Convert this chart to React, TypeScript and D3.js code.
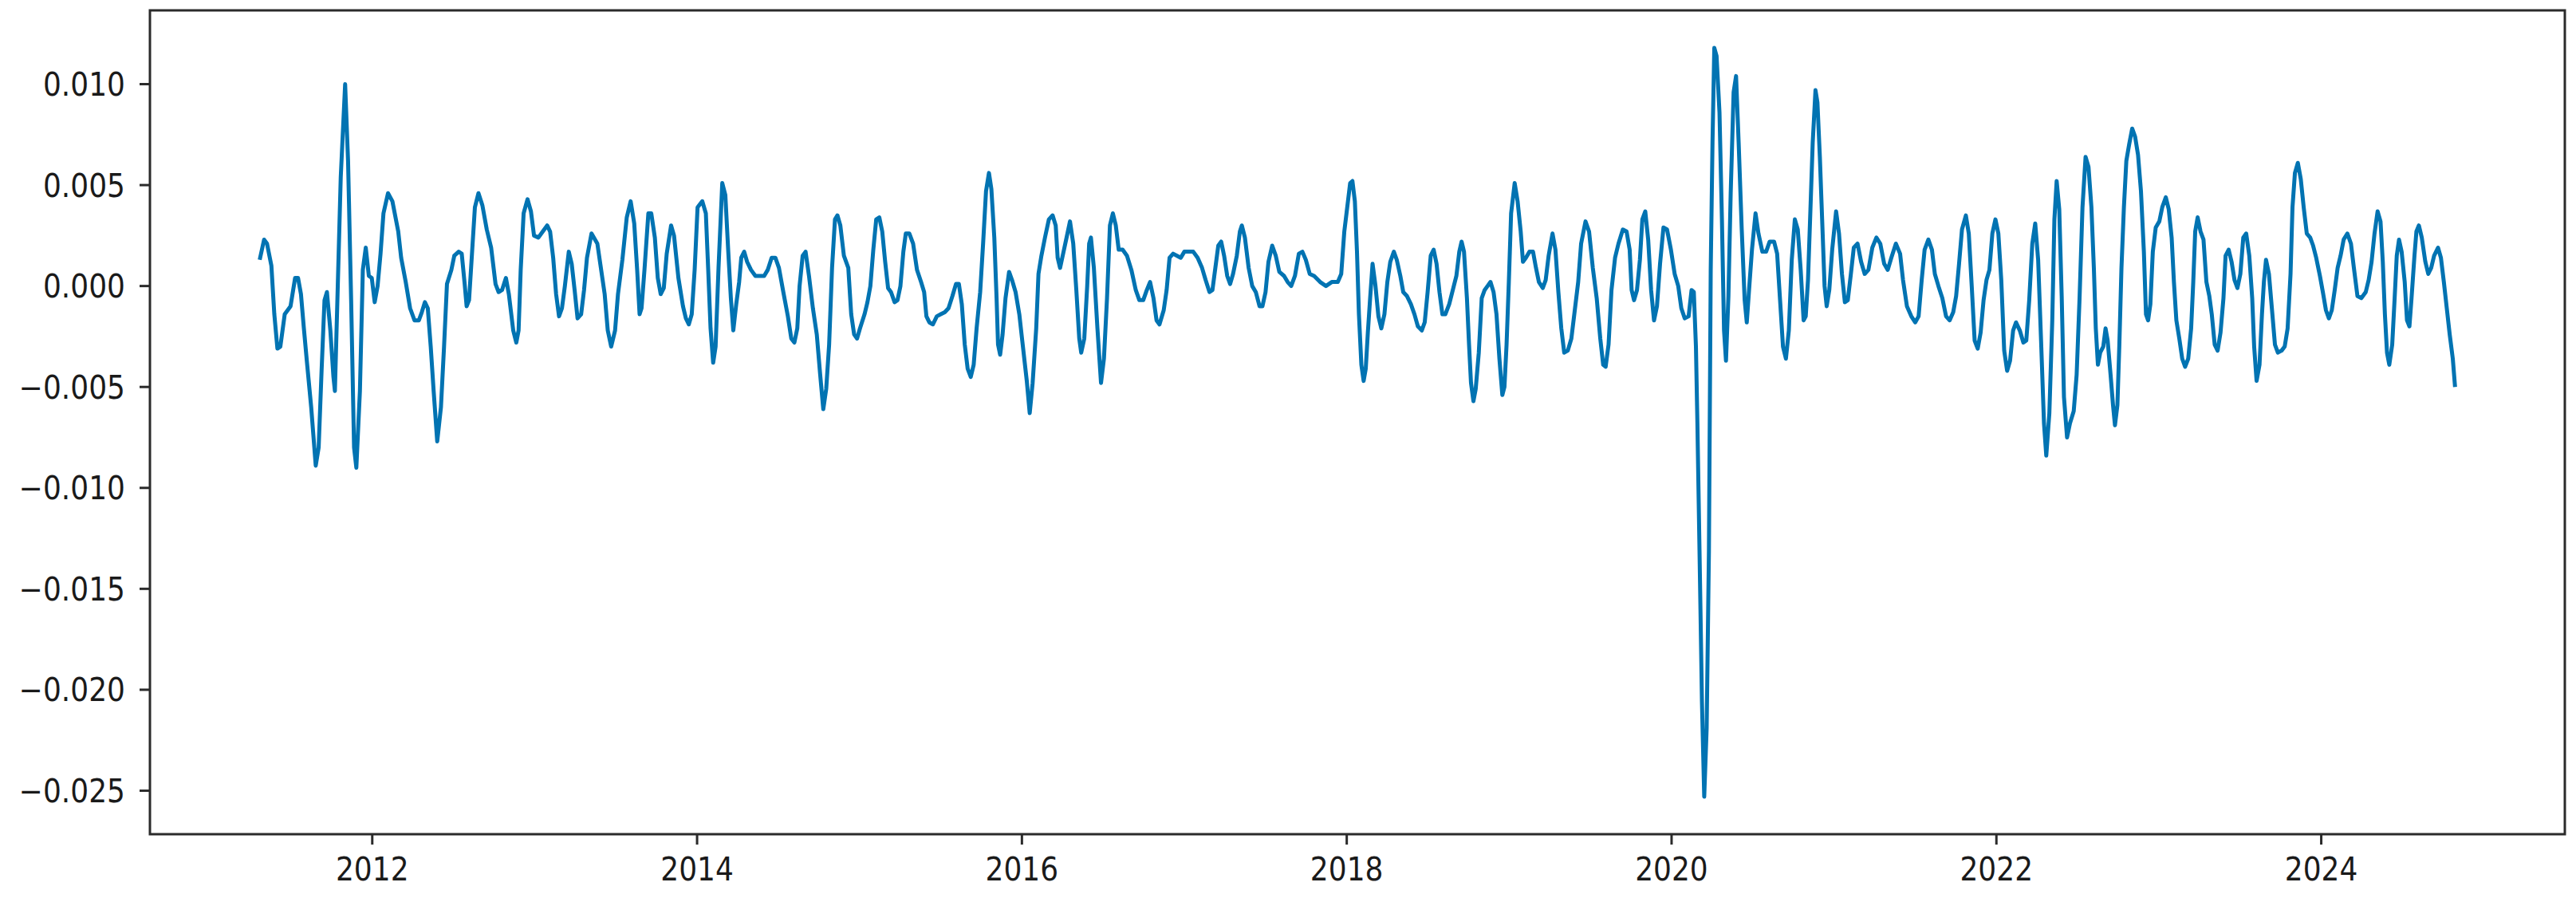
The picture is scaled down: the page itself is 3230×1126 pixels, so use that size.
import React from 'react';
import * as d3 from 'd3';

// [decimal year, value] rows in pieces
const rows2011to2013: [number, number][] = [
  [2011.307, 0.0013], [2011.334, 0.0023], [2011.352, 0.0021], [2011.379, 0.001], [2011.397, -0.0014],
  [2011.416, -0.0031], [2011.434, -0.003], [2011.461, -0.0014], [2011.497, -0.001], [2011.525, 0.0004],
  [2011.543, 0.0004], [2011.561, -0.0004], [2011.579, -0.0021], [2011.597, -0.0037], [2011.624, -0.006],
  [2011.652, -0.0089], [2011.67, -0.008], [2011.688, -0.0042], [2011.706, -0.0007], [2011.721, -0.0003],
  [2011.742, -0.0022], [2011.761, -0.0045], [2011.77, -0.0052], [2011.788, 0.0001], [2011.806, 0.0054],
  [2011.833, 0.01], [2011.851, 0.0062], [2011.87, -0.0007], [2011.888, -0.008], [2011.902, -0.009],
  [2011.924, -0.0052], [2011.942, 0.0008], [2011.96, 0.0019], [2011.979, 0.0005], [2011.997, 0.0004],
  [2012.015, -0.0008], [2012.033, 0.0], [2012.051, 0.0016], [2012.069, 0.0036], [2012.097, 0.0046],
  [2012.124, 0.0042], [2012.16, 0.0027], [2012.178, 0.0014], [2012.206, 0.0002], [2012.233, -0.0011],
  [2012.26, -0.0017], [2012.287, -0.0017], [2012.305, -0.0013], [2012.324, -0.0008], [2012.342, -0.0011],
  [2012.36, -0.003], [2012.378, -0.0052], [2012.4, -0.0077], [2012.423, -0.006], [2012.442, -0.003],
  [2012.46, 0.0001], [2012.487, 0.0008], [2012.505, 0.0015], [2012.532, 0.0017], [2012.551, 0.0016],
  [2012.569, 0.0001], [2012.581, -0.001], [2012.596, -0.0007], [2012.614, 0.0016], [2012.632, 0.0039],
  [2012.654, 0.0046], [2012.678, 0.004], [2012.705, 0.0028], [2012.732, 0.0019], [2012.759, 0.0001],
  [2012.778, -0.0003], [2012.799, -0.0002], [2012.823, 0.0004], [2012.841, -0.0004], [2012.868, -0.0022],
  [2012.887, -0.0028], [2012.901, -0.0022], [2012.914, 0.0008], [2012.932, 0.0036], [2012.956, 0.0043],
  [2012.977, 0.0037], [2012.996, 0.0025], [2013.023, 0.0024], [2013.05, 0.0027], [2013.077, 0.003],
  [2013.095, 0.0027], [2013.114, 0.0014], [2013.132, -0.0004], [2013.15, -0.0015], [2013.168, -0.0011],
  [2013.186, 0.0], [2013.21, 0.0017], [2013.228, 0.0011], [2013.246, -0.0002], [2013.264, -0.0016],
  [2013.286, -0.0014], [2013.304, -0.0002], [2013.322, 0.0014], [2013.35, 0.0026], [2013.386, 0.0021],
  [2013.404, 0.0011], [2013.431, -0.0004], [2013.45, -0.0022], [2013.471, -0.003], [2013.495, -0.0022],
  [2013.513, -0.0004], [2013.54, 0.0013], [2013.567, 0.0034], [2013.591, 0.0042], [2013.613, 0.0031],
  [2013.631, 0.0008], [2013.646, -0.0014], [2013.658, -0.0011], [2013.676, 0.0008], [2013.7, 0.0036],
  [2013.718, 0.0036], [2013.74, 0.0024], [2013.758, 0.0004], [2013.776, -0.0004], [2013.795, -0.0001],
  [2013.813, 0.0016], [2013.84, 0.003], [2013.858, 0.0025], [2013.885, 0.0004], [2013.913, -0.001],
  [2013.931, -0.0016], [2013.949, -0.0019], [2013.967, -0.0014], [2013.985, 0.0008], [2014.003, 0.0039],
];

const rows2014to2016: [number, number][] = [
  [2014.032, 0.0042], [2014.054, 0.0036], [2014.068, 0.0009], [2014.083, -0.0021], [2014.099, -0.0038],
  [2014.114, -0.003], [2014.132, 0.0009], [2014.155, 0.0051], [2014.174, 0.0045], [2014.192, 0.0017],
  [2014.208, -0.0006], [2014.223, -0.0022], [2014.241, -0.0009], [2014.259, 0.0002], [2014.272, 0.0014],
  [2014.29, 0.0017], [2014.308, 0.0012], [2014.332, 0.0008], [2014.359, 0.0005], [2014.386, 0.0005],
  [2014.413, 0.0005], [2014.435, 0.0008], [2014.459, 0.0014], [2014.482, 0.0014], [2014.504, 0.0009],
  [2014.531, -0.0003], [2014.559, -0.0015], [2014.58, -0.0026], [2014.599, -0.0028], [2014.617, -0.0021],
  [2014.631, 0.0], [2014.65, 0.0015], [2014.668, 0.0017], [2014.689, 0.0005], [2014.713, -0.0011],
  [2014.737, -0.0024], [2014.758, -0.0044], [2014.777, -0.0061], [2014.795, -0.0051], [2014.813, -0.0029],
  [2014.831, 0.0009], [2014.849, 0.0033], [2014.864, 0.0035], [2014.882, 0.003], [2014.904, 0.0015],
  [2014.931, 0.0009], [2014.949, -0.0014], [2014.967, -0.0024], [2014.985, -0.0026], [2015.003, -0.0021],
  [2015.031, -0.0014], [2015.049, -0.0008], [2015.067, 0.0], [2015.085, 0.0018], [2015.103, 0.0033],
  [2015.122, 0.0034], [2015.14, 0.0027], [2015.158, 0.0012], [2015.176, -0.0001], [2015.194, -0.0003],
  [2015.216, -0.0008], [2015.234, -0.0007], [2015.252, 0.0], [2015.27, 0.0017], [2015.285, 0.0026],
  [2015.307, 0.0026], [2015.33, 0.0021], [2015.354, 0.0008], [2015.379, 0.0002], [2015.398, -0.0003],
  [2015.412, -0.0015], [2015.43, -0.0018], [2015.452, -0.0019], [2015.476, -0.0015], [2015.5, -0.0014],
  [2015.525, -0.0013], [2015.548, -0.0011], [2015.572, -0.0005], [2015.594, 0.0001], [2015.612, 0.0001],
  [2015.63, -0.0009], [2015.648, -0.0029], [2015.666, -0.0041], [2015.685, -0.0045], [2015.703, -0.0039],
  [2015.721, -0.0021], [2015.743, -0.0003], [2015.761, 0.0021], [2015.779, 0.0047], [2015.797, 0.0056],
  [2015.812, 0.0048], [2015.83, 0.0024], [2015.844, -0.0006], [2015.853, -0.0029], [2015.866, -0.0034],
  [2015.881, -0.0024], [2015.899, -0.0006], [2015.921, 0.0007], [2015.939, 0.0003], [2015.961, -0.0003],
  [2015.984, -0.0014], [2016.002, -0.0027], [2016.03, -0.0047], [2016.048, -0.0063], [2016.066, -0.0048],
  [2016.088, -0.0021], [2016.102, 0.0006], [2016.12, 0.0015], [2016.142, 0.0024], [2016.166, 0.0033],
  [2016.189, 0.0035], [2016.208, 0.003], [2016.22, 0.0014], [2016.235, 0.0009], [2016.251, 0.0015],
  [2016.275, 0.0024], [2016.296, 0.0032], [2016.316, 0.0021], [2016.335, -0.0002], [2016.353, -0.0026],
  [2016.365, -0.0033], [2016.384, -0.0026], [2016.402, 0.0], [2016.414, 0.0021], [2016.425, 0.0024],
  [2016.443, 0.0009], [2016.465, -0.0021], [2016.487, -0.0048], [2016.505, -0.0036], [2016.524, -0.0006],
  [2016.542, 0.003], [2016.56, 0.0036], [2016.578, 0.003], [2016.596, 0.0018], [2016.62, 0.0018],
  [2016.647, 0.0015], [2016.674, 0.0008], [2016.701, -0.0002], [2016.723, -0.0007], [2016.747, -0.0007],
  [2016.769, -0.0002], [2016.789, 0.0002], [2016.81, -0.0006], [2016.829, -0.0017], [2016.847, -0.0019],
];

const rows2017to2019: [number, number][] = [
  [2016.873, -0.0012], [2016.891, -0.0002], [2016.909, 0.0014], [2016.931, 0.0016], [2016.955, 0.0015],
  [2016.978, 0.0014], [2017.0, 0.0017], [2017.027, 0.0017], [2017.055, 0.0017], [2017.082, 0.0014],
  [2017.109, 0.0009], [2017.131, 0.0003], [2017.155, -0.0003], [2017.173, -0.0002], [2017.191, 0.0009],
  [2017.209, 0.002], [2017.227, 0.0022], [2017.245, 0.0015], [2017.264, 0.0005], [2017.282, 0.0001],
  [2017.3, 0.0006], [2017.323, 0.0015], [2017.342, 0.0027], [2017.354, 0.003], [2017.373, 0.0024],
  [2017.396, 0.0009], [2017.418, 0.0], [2017.44, -0.0003], [2017.463, -0.001], [2017.481, -0.001],
  [2017.5, -0.0003], [2017.518, 0.0012], [2017.541, 0.002], [2017.563, 0.0015], [2017.585, 0.0007],
  [2017.614, 0.0005], [2017.636, 0.0002], [2017.658, 0.0], [2017.681, 0.0005], [2017.705, 0.0016],
  [2017.727, 0.0017], [2017.748, 0.0013], [2017.772, 0.0006], [2017.799, 0.0005], [2017.836, 0.0002],
  [2017.872, 0.0], [2017.908, 0.0002], [2017.945, 0.0002], [2017.966, 0.0006], [2017.985, 0.0027],
  [2018.003, 0.0039], [2018.021, 0.0051], [2018.035, 0.0052], [2018.05, 0.0042], [2018.063, 0.0017],
  [2018.075, -0.0014], [2018.09, -0.0039], [2018.104, -0.0047], [2018.117, -0.0041], [2018.13, -0.0023],
  [2018.144, -0.0006], [2018.159, 0.0011], [2018.177, 0.0], [2018.195, -0.0015], [2018.213, -0.0021],
  [2018.232, -0.0014], [2018.25, 0.0002], [2018.268, 0.0012], [2018.29, 0.0017], [2018.308, 0.0013],
  [2018.33, 0.0005], [2018.348, -0.0003], [2018.371, -0.0005], [2018.395, -0.0009], [2018.417, -0.0014],
  [2018.438, -0.002], [2018.462, -0.0022], [2018.48, -0.0018], [2018.498, -0.0003], [2018.517, 0.0015],
  [2018.535, 0.0018], [2018.553, 0.0011], [2018.571, -0.0003], [2018.589, -0.0014], [2018.607, -0.0014],
  [2018.631, -0.0009], [2018.653, -0.0002], [2018.675, 0.0005], [2018.693, 0.0017], [2018.707, 0.0022],
  [2018.722, 0.0017], [2018.74, -0.0006], [2018.753, -0.0029], [2018.765, -0.0048], [2018.78, -0.0057],
  [2018.794, -0.0051], [2018.813, -0.0033], [2018.831, -0.0006], [2018.849, -0.0002], [2018.867, 0.0],
  [2018.885, 0.0002], [2018.904, -0.0003], [2018.922, -0.0014], [2018.94, -0.0036], [2018.958, -0.0054],
  [2018.971, -0.005], [2018.984, -0.0029], [2018.998, 0.0002], [2019.012, 0.0036], [2019.034, 0.0051],
  [2019.052, 0.0042], [2019.071, 0.0027], [2019.085, 0.0012], [2019.103, 0.0014], [2019.125, 0.0017],
  [2019.147, 0.0017], [2019.165, 0.0009], [2019.183, 0.0002], [2019.207, -0.0001], [2019.225, 0.0003],
  [2019.243, 0.0015], [2019.267, 0.0026], [2019.285, 0.0018], [2019.303, -0.0003], [2019.321, -0.0021],
  [2019.339, -0.0033], [2019.361, -0.0032], [2019.383, -0.0026], [2019.401, -0.0014], [2019.425, 0.0002],
  [2019.443, 0.0021], [2019.47, 0.0032], [2019.492, 0.0027], [2019.515, 0.0009], [2019.539, -0.0006],
  [2019.561, -0.0026], [2019.579, -0.0039], [2019.594, -0.004], [2019.612, -0.0029], [2019.63, -0.0002],
  [2019.652, 0.0014], [2019.673, 0.0021],
];

const rows2019to2022: [number, number][] = [
  [2019.7, 0.0028], [2019.723, 0.0027], [2019.742, 0.0018], [2019.754, -0.0002], [2019.769, -0.0007],
  [2019.787, -0.0002], [2019.805, 0.0013], [2019.82, 0.0033], [2019.838, 0.0037], [2019.856, 0.0023],
  [2019.874, -0.0002], [2019.892, -0.0017], [2019.91, -0.001], [2019.929, 0.0011], [2019.95, 0.0029],
  [2019.972, 0.0028], [2019.996, 0.0018], [2020.019, 0.0006], [2020.041, 0.0], [2020.06, -0.0011],
  [2020.081, -0.0016], [2020.105, -0.0015], [2020.123, -0.0002], [2020.137, -0.0003], [2020.15, -0.003],
  [2020.159, -0.0068], [2020.172, -0.0131], [2020.187, -0.0206], [2020.201, -0.0253], [2020.216, -0.0219],
  [2020.23, -0.0131], [2020.241, 0.0008], [2020.252, 0.0071], [2020.263, 0.0118], [2020.277, 0.0114],
  [2020.295, 0.0086], [2020.31, 0.0033], [2020.323, -0.0022], [2020.335, -0.0037], [2020.35, -0.0005],
  [2020.364, 0.0046], [2020.382, 0.0096], [2020.397, 0.0104], [2020.413, 0.0071], [2020.432, 0.0028],
  [2020.45, -0.0007], [2020.463, -0.0018], [2020.477, -0.0002], [2020.495, 0.0018], [2020.517, 0.0036],
  [2020.535, 0.0026], [2020.559, 0.0017], [2020.582, 0.0017], [2020.604, 0.0022], [2020.631, 0.0022],
  [2020.65, 0.0016], [2020.668, -0.0007], [2020.686, -0.003], [2020.704, -0.0036], [2020.722, -0.0022],
  [2020.74, 0.0013], [2020.759, 0.0033], [2020.777, 0.0028], [2020.795, 0.0008], [2020.813, -0.0017],
  [2020.826, -0.0015], [2020.84, 0.0003], [2020.855, 0.0038], [2020.869, 0.0071], [2020.886, 0.0097],
  [2020.898, 0.0091], [2020.913, 0.0064], [2020.927, 0.0033], [2020.942, 0.0], [2020.955, -0.001],
  [2020.971, -0.0002], [2020.989, 0.0018], [2021.013, 0.0037], [2021.031, 0.0026], [2021.049, 0.0006],
  [2021.067, -0.0008], [2021.085, -0.0007], [2021.104, 0.0006], [2021.122, 0.0019], [2021.145, 0.0021],
  [2021.167, 0.0012], [2021.189, 0.0006], [2021.212, 0.0008], [2021.236, 0.0019], [2021.261, 0.0024],
  [2021.285, 0.0021], [2021.309, 0.0011], [2021.331, 0.0008], [2021.353, 0.0014], [2021.381, 0.0021],
  [2021.407, 0.0016], [2021.425, 0.0003], [2021.449, -0.001], [2021.476, -0.0015], [2021.5, -0.0018],
  [2021.521, -0.0015], [2021.54, 0.0003], [2021.558, 0.0018], [2021.581, 0.0023], [2021.603, 0.0018],
  [2021.621, 0.0006], [2021.643, 0.0], [2021.667, -0.0006], [2021.69, -0.0015], [2021.712, -0.0017],
  [2021.734, -0.0013], [2021.752, -0.0005], [2021.77, 0.0011], [2021.788, 0.0028], [2021.812, 0.0035],
  [2021.83, 0.0026], [2021.848, 0.0], [2021.866, -0.0027], [2021.885, -0.0031], [2021.903, -0.0023],
  [2021.921, -0.0007], [2021.939, 0.0003], [2021.957, 0.0008], [2021.975, 0.0026], [2021.994, 0.0033],
  [2022.012, 0.0026], [2022.03, 0.0003], [2022.048, -0.0032], [2022.066, -0.0042], [2022.084, -0.0037],
  [2022.103, -0.0022], [2022.121, -0.0018], [2022.144, -0.0022], [2022.166, -0.0028], [2022.184, -0.0027],
  [2022.202, -0.0007], [2022.221, 0.0021], [2022.239, 0.0031], [2022.257, 0.0013], [2022.275, -0.0027],
  [2022.293, -0.0068], [2022.307, -0.0084], [2022.326, -0.0063], [2022.344, -0.0017], [2022.357, 0.0033],
  [2022.371, 0.0052], [2022.387, 0.0038], [2022.402, -0.0005], [2022.416, -0.0055], [2022.435, -0.0075],
  [2022.453, -0.0068],
];

const rows2022to2024: [number, number][] = [
  [2022.476, -0.0062], [2022.494, -0.0044], [2022.512, -0.0006], [2022.53, 0.0039], [2022.549, 0.0064],
  [2022.567, 0.0059], [2022.585, 0.0039], [2022.6, 0.0009], [2022.612, -0.0021], [2022.625, -0.0039],
  [2022.639, -0.0033], [2022.658, -0.003], [2022.672, -0.0021], [2022.685, -0.0027], [2022.703, -0.0044],
  [2022.718, -0.0059], [2022.73, -0.0069], [2022.745, -0.0059], [2022.757, -0.0029], [2022.77, 0.0009],
  [2022.785, 0.0039], [2022.8, 0.0062], [2022.817, 0.007], [2022.836, 0.0078], [2022.854, 0.0074],
  [2022.872, 0.0065], [2022.89, 0.0047], [2022.908, 0.0017], [2022.921, -0.0014], [2022.934, -0.0017],
  [2022.948, -0.0009], [2022.963, 0.0017], [2022.981, 0.0029], [2023.003, 0.0032], [2023.021, 0.0039],
  [2023.043, 0.0044], [2023.061, 0.0038], [2023.079, 0.0024], [2023.093, 0.0002], [2023.108, -0.0017],
  [2023.126, -0.0026], [2023.144, -0.0036], [2023.162, -0.004], [2023.181, -0.0036], [2023.199, -0.0021],
  [2023.212, 0.0002], [2023.224, 0.0027], [2023.239, 0.0034], [2023.257, 0.0027], [2023.275, 0.0023],
  [2023.293, 0.0002], [2023.311, -0.0005], [2023.326, -0.0014], [2023.344, -0.0029], [2023.362, -0.0032],
  [2023.38, -0.0023], [2023.398, -0.0006], [2023.411, 0.0015], [2023.43, 0.0018], [2023.448, 0.0012],
  [2023.466, 0.0003], [2023.484, -0.0001], [2023.502, 0.0006], [2023.52, 0.0024], [2023.538, 0.0026],
  [2023.557, 0.0015], [2023.575, -0.0006], [2023.587, -0.003], [2023.602, -0.0047], [2023.62, -0.0039],
  [2023.635, -0.0014], [2023.647, 0.0002], [2023.66, 0.0013], [2023.678, 0.0006], [2023.696, -0.0011],
  [2023.715, -0.0029], [2023.733, -0.0033], [2023.756, -0.0032], [2023.775, -0.003], [2023.793, -0.0021],
  [2023.811, 0.0006], [2023.823, 0.0039], [2023.838, 0.0056], [2023.856, 0.0061], [2023.874, 0.0053],
  [2023.892, 0.0039], [2023.911, 0.0026], [2023.932, 0.0024], [2023.95, 0.002], [2023.969, 0.0014],
  [2023.992, 0.0005], [2024.01, -0.0003], [2024.029, -0.0012], [2024.047, -0.0016], [2024.065, -0.0012],
  [2024.083, -0.0002], [2024.101, 0.0009], [2024.119, 0.0015], [2024.138, 0.0023], [2024.161, 0.0026],
  [2024.183, 0.0021], [2024.201, 0.0009], [2024.223, -0.0005], [2024.247, -0.0006], [2024.274, -0.0003],
  [2024.292, 0.0003], [2024.31, 0.0012], [2024.328, 0.0026], [2024.347, 0.0037], [2024.365, 0.0032],
  [2024.379, 0.0012], [2024.392, -0.0014], [2024.405, -0.0033], [2024.419, -0.0039], [2024.437, -0.0029],
  [2024.452, -0.0006], [2024.465, 0.0015], [2024.479, 0.0023], [2024.495, 0.0017], [2024.514, 0.0002],
  [2024.528, -0.0017], [2024.543, -0.002], [2024.556, -0.0006], [2024.574, 0.0015], [2024.586, 0.0027],
  [2024.601, 0.003], [2024.619, 0.0024], [2024.641, 0.0012], [2024.659, 0.0006], [2024.677, 0.0009],
  [2024.695, 0.0015], [2024.719, 0.0019], [2024.737, 0.0014], [2024.755, 0.0002], [2024.773, -0.0011],
  [2024.791, -0.0024], [2024.81, -0.0036], [2024.824, -0.005],
];

const xTicks = [2012, 2014, 2016, 2018, 2020, 2022, 2024];
const yTicks = [-0.025, -0.02, -0.015, -0.01, -0.005, 0, 0.005, 0.01];

const W = 3230;
const H = 1126;
const margin = { top: 13, right: 14, bottom: 80, left: 188 };
const font = "'DejaVu Sans', sans-serif";
const stretch = 1.12; // reference text is a bit taller than wide

export default function App() {
  const data = [...rows2011to2013, ...rows2014to2016, ...rows2017to2019, ...rows2019to2022, ...rows2022to2024];

  // matplotlib-like 5% padding around the data
  const [x0, x1] = d3.extent(data, (d) => d[0]) as [number, number];
  const [y0, y1] = d3.extent(data, (d) => d[1]) as [number, number];
  const px = (x1 - x0) * 0.05;
  const py = (y1 - y0) * 0.05;

  const x = d3.scaleLinear().domain([x0 - px, x1 + px]).range([margin.left, W - margin.right]);
  const y = d3.scaleLinear().domain([y0 - py, y1 + py]).range([H - margin.bottom, margin.top]);

  const line = d3.line<[number, number]>().x((d) => x(d[0])).y((d) => y(d[1]));
  const fmt = d3.format('.3f');

  const left = margin.left;
  const right = W - margin.right;
  const top = margin.top;
  const bottom = H - margin.bottom;

  return (
    <svg width={W} height={H} style={{ position: 'absolute', left: 0, top: 0, background: '#fff' }}>
      <defs>
        <clipPath id="plot">
          <rect x={left} y={top} width={right - left} height={bottom - top} />
        </clipPath>
      </defs>
      <path
        d={line(data) || ''}
        fill="none"
        stroke="#0173b2"
        strokeWidth={5}
        strokeLinejoin="round"
        clipPath="url(#plot)"
      />
      <rect x={left} y={top} width={right - left} height={bottom - top} fill="none" stroke="#2b2b2b" strokeWidth={3} />

      {yTicks.map((t) => (
        <g key={t}>
          <line x1={left - 13} x2={left} y1={y(t)} y2={y(t)} stroke="#2b2b2b" strokeWidth={3} />
          <text
            transform={`translate(${left - 31},${y(t)}) scale(1,${stretch})`}
            textAnchor="end"
            dy="0.36em"
            fontFamily={font}
            fontSize={36}
            fill="#1a1a1a"
          >
            {fmt(t)}
          </text>
        </g>
      ))}

      {xTicks.map((t) => (
        <g key={t}>
          <line x1={x(t)} x2={x(t)} y1={bottom} y2={bottom + 13} stroke="#2b2b2b" strokeWidth={3} />
          <text
            transform={`translate(${x(t)},${bottom + 58}) scale(1,${stretch})`}
            textAnchor="middle"
            fontFamily={font}
            fontSize={36}
            fill="#1a1a1a"
          >
            {t}
          </text>
        </g>
      ))}
    </svg>
  );
}
